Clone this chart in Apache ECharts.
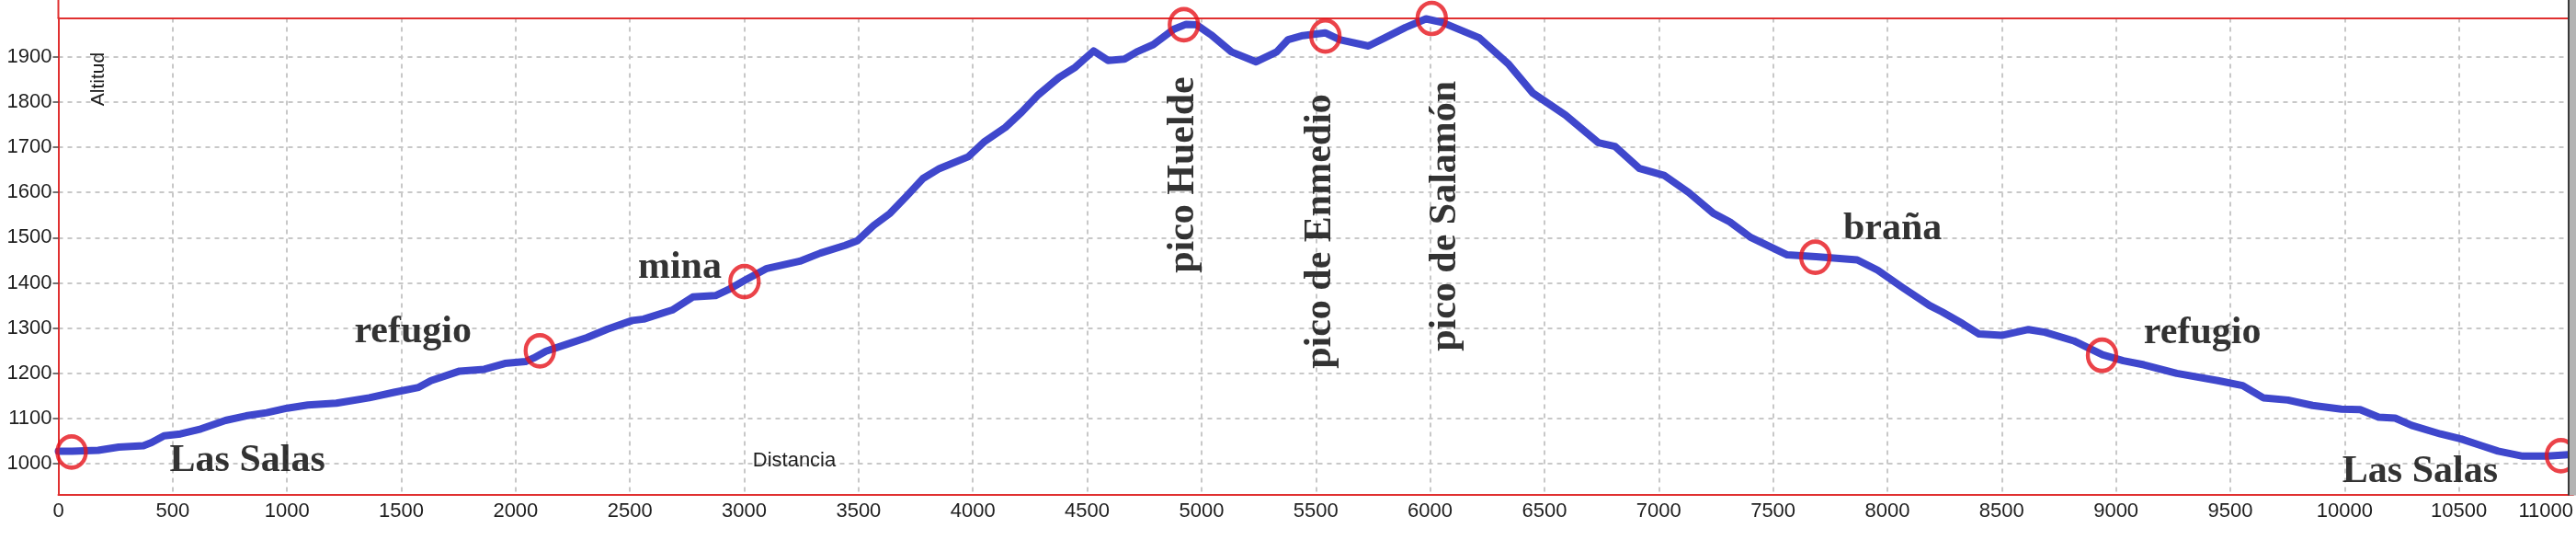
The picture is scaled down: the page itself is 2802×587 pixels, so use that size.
<!DOCTYPE html>
<html>
<head>
<meta charset="utf-8">
<script src="https://cdn.jsdelivr.net/npm/echarts@6/dist/echarts.min.js"></script>
<style>
  html, body { margin: 0; padding: 0; background: #ffffff; }
  #chart { width: 2802px; height: 587px; }
</style>
</head>
<body>
<div id="chart"></div>
<script>
// ---- data (distance in m, altitude in m) ----
const distance = [0,60,174,264,372,408,462,534,623,731,821,911,1001,1091,1216,1360,1468,1576,1630,1755,1863,1953,2043,2079,2133,2222,2312,2402,2510,2560,2685,2775,2874,2930,3000,3099,3243,3333,3441,3494,3566,3638,3710,3782,3854,3980,4052,4142,4214,4286,4376,4448,4528,4591,4663,4717,4789,4879,4933,4978,5041,5131,5239,5329,5379,5443,5541,5604,5730,5802,5892,5982,6053,6215,6341,6449,6592,6736,6808,6916,7023,7131,7239,7311,7401,7562,7688,7868,7958,8066,8185,8239,8329,8401,8500,8617,8689,8815,8941,9032,9122,9266,9446,9554,9644,9752,9860,9986,10068,10149,10221,10293,10419,10509,10599,10671,10779,10888,10978];
const altitude = [1028,1028,1030,1037,1040,1047,1062,1066,1077,1096,1106,1113,1123,1130,1134,1146,1158,1169,1184,1205,1209,1222,1226,1234,1249,1264,1279,1298,1317,1320,1340,1369,1372,1385,1405,1432,1448,1466,1483,1493,1527,1554,1592,1631,1653,1679,1713,1744,1778,1816,1854,1877,1913,1892,1895,1911,1927,1961,1972,1971,1949,1911,1889,1911,1938,1947,1953,1938,1924,1942,1965,1984,1976,1942,1885,1820,1771,1710,1702,1653,1638,1600,1554,1535,1501,1462,1458,1451,1428,1390,1350,1336,1310,1287,1284,1297,1291,1272,1241,1228,1219,1200,1184,1173,1146,1141,1129,1121,1120,1103,1101,1085,1066,1055,1040,1028,1017,1017,1020];

// points of interest (red rings)
const poiDistance = [58, 2106, 3001, 4923, 5542, 6007, 7685, 8939, 10946];
const poiAltitude = [1026, 1250, 1403, 1971, 1946, 1985, 1457, 1240, 1018];

// annotation texts anchored in data coordinates
const labelNames    = ['Las Salas', 'refugio', 'mina', 'pico Huelde', 'pico de Enmedio', 'pico de Salamón', 'braña', 'refugio', 'Las Salas'];
const labelDistance = [827, 1551, 2718, 4919, 5518, 6066, 8023, 9378, 10330];
const labelAltitude = [1006, 1290, 1434, 1639, 1514, 1548, 1519, 1289, 981];
const labelRotate   = [0, 0, 0, 90, 90, 90, 0, 0, 0];

// axes
const xMin = 0, xMax = 11000, xStep = 500;
const yMin = 932, yMax = 1986;
const yTitle = 'Altitud';
const xTitle = 'Distancia';

const axisFont = "'Liberation Sans Narrow', 'Liberation Sans', Arial, sans-serif";
const red = '#e03030';

const lineData = distance.map((d, i) => [d, altitude[i]]);
const poiData = poiDistance.map((d, i) => [d, poiAltitude[i]]);
const labelData = labelNames.map((n, i) => ({
  name: n,
  value: [labelDistance[i], labelAltitude[i]],
  label: { rotate: labelRotate[i] }
}));
const plain = v => String(Math.round(v));

const chart = echarts.init(document.getElementById('chart'), null, { renderer: 'canvas' });
chart.setOption({
  animation: false,
  backgroundColor: '#ffffff',
  grid: { left: 63.5, right: 2, top: 19.5, bottom: 49.4 },
  xAxis: [{
    type: 'value', min: xMin, max: xMax, interval: xStep, position: 'bottom',
    axisLine: { show: true, lineStyle: { color: red, width: 2 } },
    axisTick: { show: false },
    axisLabel: { interval: 0, margin: 7, fontSize: 22, fontFamily: axisFont, color: '#1e1e1e', alignMaxLabel: 'right', formatter: plain },
    splitLine: { show: true, showMinLine: false, lineStyle: { color: '#c8c8c8', width: 2, type: [5, 5] } }
  }, {
    type: 'value', min: xMin, max: xMax, position: 'top',
    axisLine: { show: true, onZero: false, lineStyle: { color: red, width: 2 } },
    axisTick: { show: false }, axisLabel: { show: false }, splitLine: { show: false }
  }],
  yAxis: {
    type: 'value', min: yMin, max: yMax, splitNumber: 10,
    axisLine: { show: true, lineStyle: { color: red, width: 2 } },
    axisTick: { show: true, length: 6, lineStyle: { color: '#444', width: 1.5 } },
    axisLabel: { margin: 7, fontSize: 22, fontFamily: axisFont, color: '#1e1e1e', showMinLabel: false, showMaxLabel: false, formatter: plain },
    splitLine: { show: true, showMinLine: false, showMaxLine: false, lineStyle: { color: '#c8c8c8', width: 2, type: [5, 5] } }
  },
  series: [{
    name: 'perfil', type: 'line', data: lineData, showSymbol: false, z: 3,
    lineStyle: { color: '#3f47cc', width: 8, cap: 'round', join: 'round' }
  }, {
    name: 'puntos', type: 'scatter', data: poiData, z: 4, symbol: 'circle', symbolSize: [31, 34],
    itemStyle: { color: 'rgba(0,0,0,0)', borderColor: '#e6141c', borderWidth: 4.5 }
  }, {
    name: 'etiquetas', type: 'scatter', data: labelData, symbolSize: 0, z: 5, silent: true,
    label: {
      show: true, position: 'inside', formatter: p => p.name,
      fontFamily: "'Liberation Serif', 'Times New Roman', serif", fontWeight: 'bold',
      fontSize: 42, color: '#000000', align: 'center', verticalAlign: 'middle'
    }
  }],
  graphic: [
    { type: 'line', shape: { x1: 63.5, y1: 0, x2: 63.5, y2: 20 }, style: { stroke: red, lineWidth: 2 }, z: 10 },
    { type: 'rect', shape: { x: 2793, y: 0, width: 2, height: 538.5 }, style: { fill: '#3a3a3a' }, z: 20 },
    { type: 'rect', shape: { x: 2795, y: 0, width: 7, height: 538.5 }, style: { fill: '#b4b4b4' }, z: 20 },
    { type: 'text', x: 107.5, y: 86, rotation: Math.PI / 2,
      style: { text: yTitle, font: "21px " + axisFont, fill: '#1e1e1e', align: 'center', verticalAlign: 'middle' }, z: 10 },
    { type: 'text', x: 864, y: 501,
      style: { text: xTitle, font: "22px " + axisFont, fill: '#1e1e1e', align: 'center', verticalAlign: 'middle' }, z: 10 }
  ]
});
</script>
</body>
</html>
